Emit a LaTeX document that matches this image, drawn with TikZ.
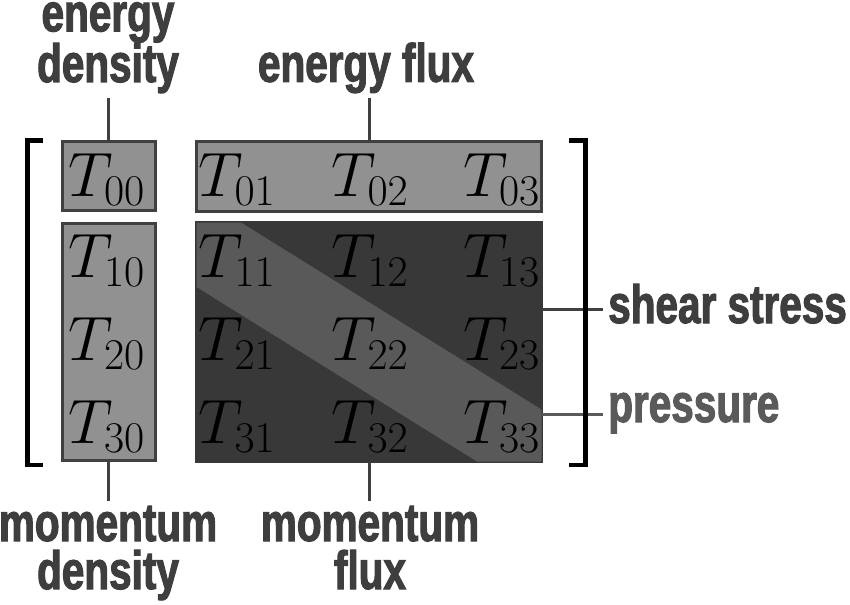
\RequirePackage{fix-cm}
\documentclass[tikz,border=0pt]{standalone}
\usepackage{fontspec}
\newfontfamily\lblfont{Liberation Sans}[FakeStretch=0.75, BoldFeatures={FakeBold=2}]
\usepackage{tikz}

\definecolor{lblgray}{HTML}{3E3E3E}
\definecolor{presgray}{HTML}{5A5A5A}
\definecolor{boxlight}{HTML}{919191}
\definecolor{boxdark}{HTML}{383838}
\definecolor{bandgray}{HTML}{595959}
\definecolor{edgegray}{HTML}{404040}

\tikzset{
  lightbox/.style={draw=edgegray, fill=boxlight, line width=2.25pt, inner sep=0pt, outer sep=0pt},
  darkbox/.style={draw=boxdark, fill=boxdark, line width=2.25pt, inner sep=0pt, outer sep=0pt},
  entry/.style={anchor=base, inner sep=0pt, font=\fontsize{47}{56}\selectfont},
  lbl/.style={text=lblgray, font=\lblfont\bfseries\fontsize{40.5}{38}\selectfont, align=center, inner sep=3.4pt},
  lbllow/.style={lbl, font=\lblfont\bfseries\fontsize{40.5}{36}\selectfont},
  conn/.style={draw=edgegray, line width=2.25pt},
  brk/.style={line width=3.4pt}
}

\begin{document}
\begin{tikzpicture}[x=0.75pt,y=-0.75pt]
            \useasboundingbox (0,0) rectangle (850,604);
            % blocks of the tensor
            \node[lightbox, minimum width=69.4pt, minimum height=51.75pt] (bx00) at (109.25,176) {};
            \node[lightbox, minimum width=69.4pt, minimum height=177.75pt] (bxcol) at (109.25,342) {};
            \node[lightbox, minimum width=258.75pt, minimum height=52.5pt] (bxrow) at (369,176.5) {};
            \node[darkbox, minimum width=258.75pt, minimum height=179.25pt] (bxdk) at (369,342) {};
            \fill[bandgray] (196.5,222.5) -- (241,222.5) -- (541.5,409.5) -- (541.5,461.5) -- (477,461.5) -- (196.5,287) -- cycle;
            % entries
            \node[entry] (t00) at (106.5,196) {$T_{00}$};
            \node[entry] (t01) at (237,196) {$T_{01}$};
            \node[entry] (t02) at (370,196) {$T_{02}$};
            \node[entry] (t03) at (501.5,196) {$T_{03}$};
            \node[entry] (t10) at (106.5,277) {$T_{10}$};
            \node[entry] (t11) at (237,277) {$T_{11}$};
            \node[entry] (t12) at (370,277) {$T_{12}$};
            \node[entry] (t13) at (501.5,277) {$T_{13}$};
            \node[entry] (t20) at (106.5,360) {$T_{20}$};
            \node[entry] (t21) at (237,360) {$T_{21}$};
            \node[entry] (t22) at (370,360) {$T_{22}$};
            \node[entry] (t23) at (501.5,360) {$T_{23}$};
            \node[entry] (t30) at (106.5,443) {$T_{30}$};
            \node[entry] (t31) at (237,443) {$T_{31}$};
            \node[entry] (t32) at (370,443) {$T_{32}$};
            \node[entry] (t33) at (501.5,443) {$T_{33}$};
            % labels
            \node[lbl, anchor=south] (ed) at (108,98) {energy\\density};
            \node[lbl, anchor=south] (ef) at (366,98) {energy flux};
            \node[lbllow, anchor=north] (md) at (108,501) {momentum\\density};
            \node[lbllow, anchor=north] (mf) at (370,501) {momentum\\flux};
            \node[lbl, anchor=base west, inner sep=0pt] (ss) at (608,323) {shear stress};
            \node[lbl, anchor=base west, inner sep=0pt, text=presgray] (pr) at (608,422) {pressure};
            \coordinate (ssend) at (603,309);
            \coordinate (prend) at (603,414);
            % connectors
            \draw[conn] (ed.south) -- (ed.south |- bx00.north);
            \draw[conn] (bxrow.north) -- (bxrow.north |- ef.south);
            \draw[conn] (md.north) -- (md.north |- bxcol.south);
            \draw[conn] (bxdk.south) -- (bxdk.south |- mf.north);
            \draw[conn] (bxdk.east |- ssend) -- (ssend);
            \draw[conn, draw=presgray] (bxdk.east |- prend) -- (prend);
            % brackets
            \draw[brk] (43,140.5) -- (27.5,140.5) -- (27.5,465) -- (43,465);
            \draw[brk] (569,140.5) -- (585.5,140.5) -- (585.5,465) -- (569,465);
\end{tikzpicture}
\end{document}
